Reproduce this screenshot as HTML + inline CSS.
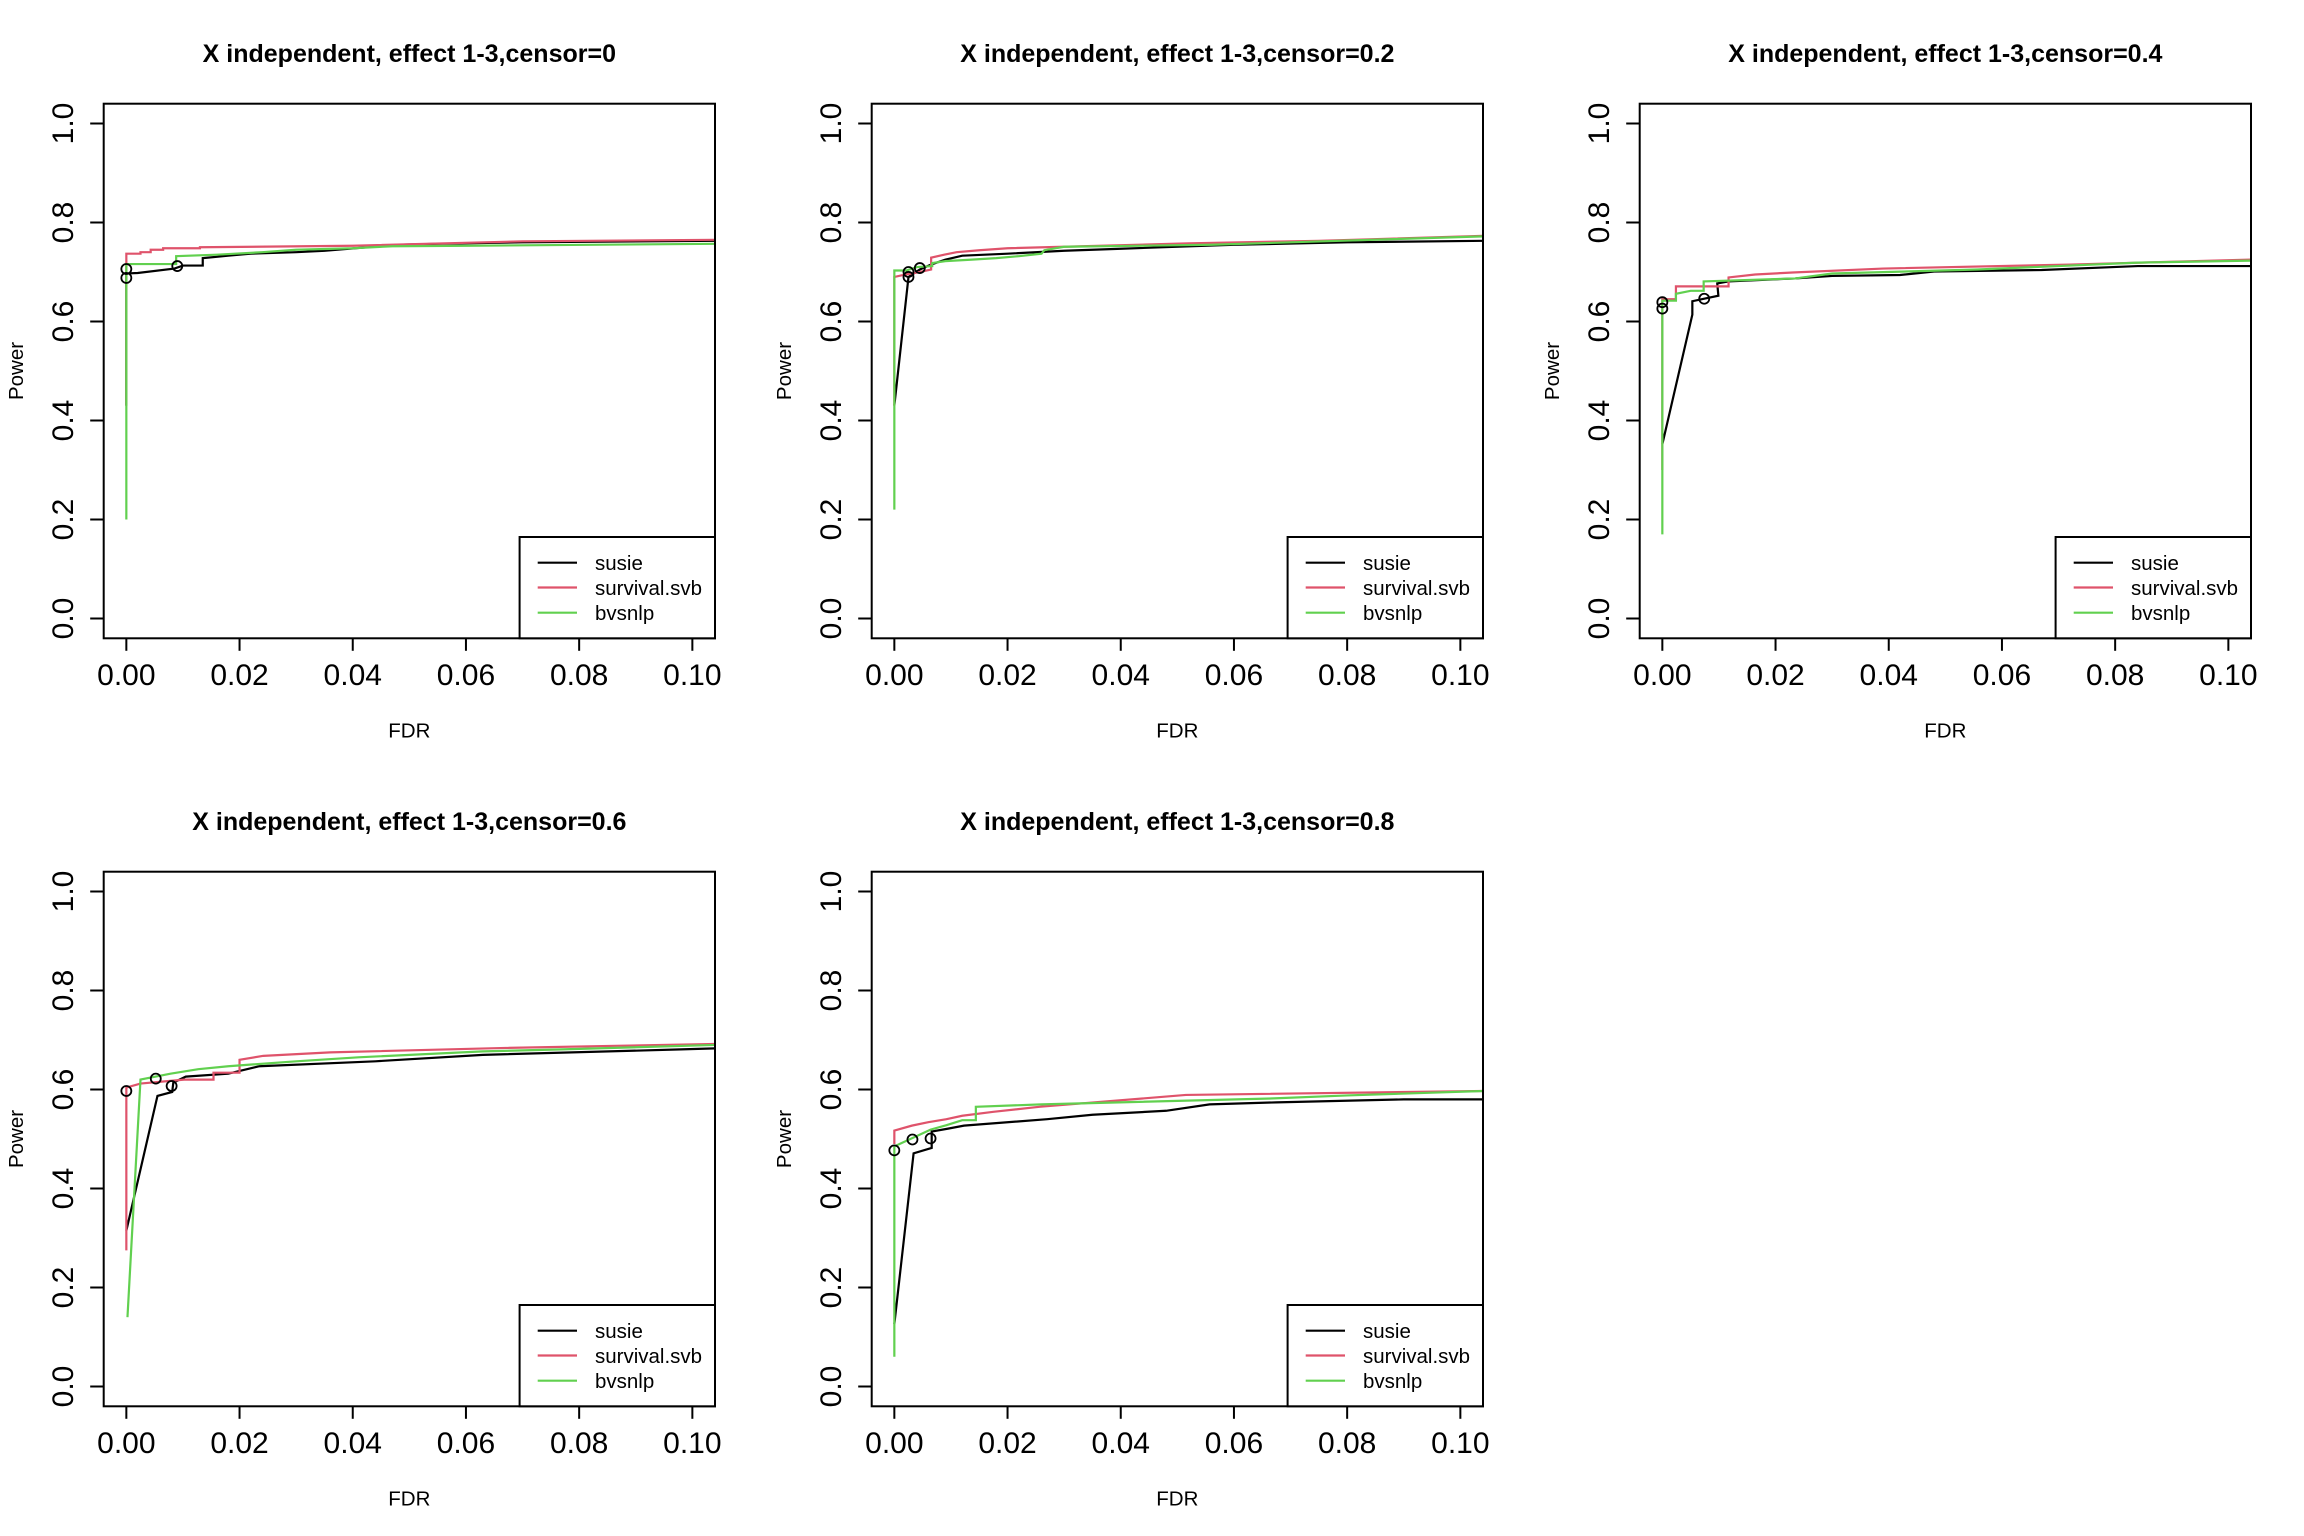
<!DOCTYPE html>
<html><head><meta charset="utf-8"><style>
html,body{margin:0;padding:0;background:#fff;}
svg{display:block;font-family:"Liberation Sans",Arial,sans-serif;}
</style></head>
<body>
<svg id="fig" width="2304" height="1536" viewBox="0 0 2304 1536" xmlns="http://www.w3.org/2000/svg"></svg>
<script>
const censorLabels = ["0","0.2","0.4","0.6","0.8"];
const xTicks = [0,0.02,0.04,0.06,0.08,0.10];
const xTickLabels = ["0.00","0.02","0.04","0.06","0.08","0.10"];
const yTicks = [0,0.2,0.4,0.6,0.8,1.0];
const yTickLabels = ["0.0","0.2","0.4","0.6","0.8","1.0"];
const seriesNames = ["susie","survival.svb","bvsnlp"];
const seriesColors = ["#000000","#DF536B","#61D04F"];

const susieFdr = [
 [0,0,0.002,0.0085,0.01,0.0135,0.0135,0.018,0.022,0.03,0.035,0.048,0.055,0.07,0.104],
 [0,0.0025,0.0045,0.0065,0.009,0.012,0.02,0.03,0.04,0.06,0.08,0.104],
 [0,0.0053,0.0053,0.0074,0.0099,0.0097,0.0117,0.0235,0.03,0.042,0.048,0.067,0.084,0.104],
 [0,0.0055,0.0081,0.0083,0.0105,0.018,0.0235,0.044,0.063,0.098,0.104],
 [0,0.0034,0.0066,0.0066,0.0095,0.0123,0.027,0.035,0.048,0.0557,0.0675,0.09,0.104]
];
const susiePower = [
 [0.43,0.697,0.698,0.707,0.713,0.713,0.728,0.733,0.737,0.740,0.743,0.755,0.757,0.760,0.763],
 [0.43,0.69,0.705,0.715,0.725,0.733,0.737,0.743,0.747,0.755,0.76,0.763],
 [0.352,0.614,0.641,0.646,0.652,0.677,0.681,0.687,0.692,0.694,0.701,0.704,0.712,0.712],
 [0.315,0.587,0.595,0.614,0.626,0.632,0.647,0.657,0.67,0.681,0.683],
 [0.126,0.471,0.482,0.515,0.521,0.527,0.54,0.549,0.557,0.57,0.574,0.58,0.58]
];
const svbFdr = [
 [0,0,0.0025,0.0025,0.0043,0.0043,0.0065,0.0065,0.013,0.013,0.04,0.07,0.104],
 [0,0,0.002,0.0045,0.0065,0.0065,0.0088,0.011,0.015,0.02,0.04,0.052,0.075,0.104],
 [0,0,0.0024,0.0024,0.0117,0.0117,0.0164,0.023,0.039,0.072,0.104],
 [0,0,0.0025,0.0102,0.0154,0.0154,0.020,0.020,0.0242,0.036,0.067,0.104],
 [0,0,0.0031,0.006,0.0092,0.012,0.0175,0.0256,0.0515,0.104]
];
const svbPower = [
 [0.43,0.737,0.737,0.74,0.74,0.745,0.745,0.748,0.748,0.75,0.753,0.762,0.765],
 [0.43,0.69,0.695,0.70,0.705,0.729,0.735,0.74,0.744,0.748,0.754,0.758,0.763,0.773],
 [0.3,0.645,0.645,0.671,0.671,0.689,0.695,0.699,0.707,0.715,0.725],
 [0.275,0.604,0.612,0.62,0.62,0.634,0.634,0.66,0.668,0.675,0.684,0.692],
 [0.49,0.517,0.527,0.534,0.54,0.547,0.555,0.565,0.589,0.597]
];
const bvsFdr = [
 [0,0,0.0088,0.0088,0.016,0.024,0.03,0.04,0.047,0.06,0.104],
 [0,0,0.0021,0.004,0.0067,0.0067,0.009,0.0137,0.018,0.022,0.026,0.0265,0.03,0.056,0.104],
 [0,0,0.0024,0.0024,0.005,0.0073,0.0073,0.0235,0.03,0.0557,0.084,0.104],
 [0.0002,0.0025,0.0078,0.0127,0.018,0.030,0.041,0.063,0.077,0.104],
 [0,0,0.0064,0.0092,0.012,0.0144,0.0144,0.026,0.067,0.08,0.104]
];
const bvsPower = [
 [0.2,0.716,0.716,0.732,0.735,0.74,0.745,0.748,0.752,0.753,0.757],
 [0.22,0.703,0.703,0.71,0.712,0.718,0.722,0.725,0.728,0.732,0.737,0.744,0.751,0.755,0.772],
 [0.17,0.642,0.642,0.656,0.662,0.662,0.681,0.687,0.697,0.705,0.719,0.723],
 [0.14,0.62,0.632,0.641,0.647,0.657,0.665,0.677,0.681,0.69],
 [0.06,0.485,0.519,0.528,0.538,0.538,0.565,0.57,0.582,0.588,0.597]
];
const circleFdr = [[0,0,0.009],[0.0025,0.0025,0.0045],[0,0,0.0074],[0,0.0052,0.008],[0,0.0032,0.0064]];
const circlePower = [[0.688,0.706,0.712],[0.69,0.70,0.708],[0.639,0.626,0.646],[0.597,0.622,0.607],[0.477,0.499,0.501]];

const NS="http://www.w3.org/2000/svg";
const svg=document.getElementById('fig');
function mk(tag,attrs,parent){const e=document.createElementNS(NS,tag);for(const k in attrs)e.setAttribute(k,attrs[k]);(parent||svg).appendChild(e);return e;}

const BOX={l:103.7,r:715,t:103.7,b:638.3};
const XMIN=-0.004,XMAX=0.104,YMIN=-0.04,YMAX=1.04;

for(let p=0;p<5;p++){
  const ox=(p%3)*768, oy=Math.floor(p/3)*768;
  const L=BOX.l+ox,R=BOX.r+ox,T=BOX.t+oy,B=BOX.b+oy;
  const sx=v=>L+(v-XMIN)/(XMAX-XMIN)*(R-L);
  const sy=v=>B-(v-YMIN)/(YMAX-YMIN)*(B-T);
  const g=mk('g',{});
  
  

  const title=mk('text',{x:(L+R)/2,y:62+oy,'text-anchor':'middle','font-size':25,'font-weight':'bold'},g);
  title.textContent='X independent, effect 1-3,censor='+censorLabels[p];
  
  

  const clipId='clip'+p;
  const cp=mk('clipPath',{id:clipId},g);
  mk('rect',{x:L,y:T,width:R-L,height:B-T},cp);

  const lines=mk('g',{'clip-path':'url(#'+clipId+')'},g);
  const sets=[[susieFdr,susiePower],[svbFdr,svbPower],[bvsFdr,bvsPower]];
  sets.forEach((s,i)=>{
    const pts=s[0][p].map((x,j)=>sx(x).toFixed(2)+','+sy(s[1][p][j]).toFixed(2)).join(' ');
    const pl=mk('polyline',{points:pts,fill:'none',stroke:seriesColors[i],'stroke-width':2.2,'stroke-linejoin':'miter'},lines);
    
    
  });
  circleFdr[p].forEach((x,j)=>{
    const c=mk('circle',{cx:sx(x),cy:sy(circlePower[p][j]),r:5,fill:'none',stroke:'#000','stroke-width':1.8},g);
    
    
  });

  const box=mk('rect',{x:L,y:T,width:R-L,height:B-T,fill:'none',stroke:'#000','stroke-width':2},g);
  
  

  xTicks.forEach((v,i)=>{
    const x=sx(v);
    const tk=mk('line',{x1:x,x2:x,y1:B,y2:B+12.5,stroke:'#000','stroke-width':2},g);
    
    
    const t=mk('text',{x:x,y:685+oy,'text-anchor':'middle','font-size':30},g);
    t.textContent=xTickLabels[i];
    
    
  });
  yTicks.forEach((v,i)=>{
    const y=sy(v);
    const tk=mk('line',{x1:L-13.5,x2:L,y1:y,y2:y,stroke:'#000','stroke-width':2},g);
    
    
    const tx=73+ox;
    const t=mk('text',{x:tx,y:y,'text-anchor':'middle','font-size':30,transform:'rotate(-90 '+tx+' '+y+')'},g);
    t.textContent=yTickLabels[i];
    
    
  });
  const xl=mk('text',{x:(L+R)/2,y:737.5+oy,'text-anchor':'middle','font-size':20.5},g);
  xl.textContent='FDR';
  
  
  const yx=23+ox, yy=(T+B)/2;
  const yl=mk('text',{x:yx,y:yy,'text-anchor':'middle','font-size':20.5,transform:'rotate(-90 '+yx+' '+yy+')'},g);
  yl.textContent='Power';
  
  

  const lg=mk('g',{},g);
  
  
  mk('rect',{x:519.6+ox,y:537+oy,width:R-(519.6+ox),height:B-(537+oy),fill:'#fff',stroke:'#000','stroke-width':2},lg);
  const rows=[562.7,587.5,612.7];
  seriesNames.forEach((n,i)=>{
    const y=rows[i]+oy;
    const ln=mk('line',{x1:537.7+ox,x2:577+ox,y1:y,y2:y,stroke:seriesColors[i],'stroke-width':2.2},lg);
    
    
    const t=mk('text',{x:595+ox,y:y+7.3,'font-size':20.5},lg);
    t.textContent=n;
    
    
  });
}
</script>
</body></html>
